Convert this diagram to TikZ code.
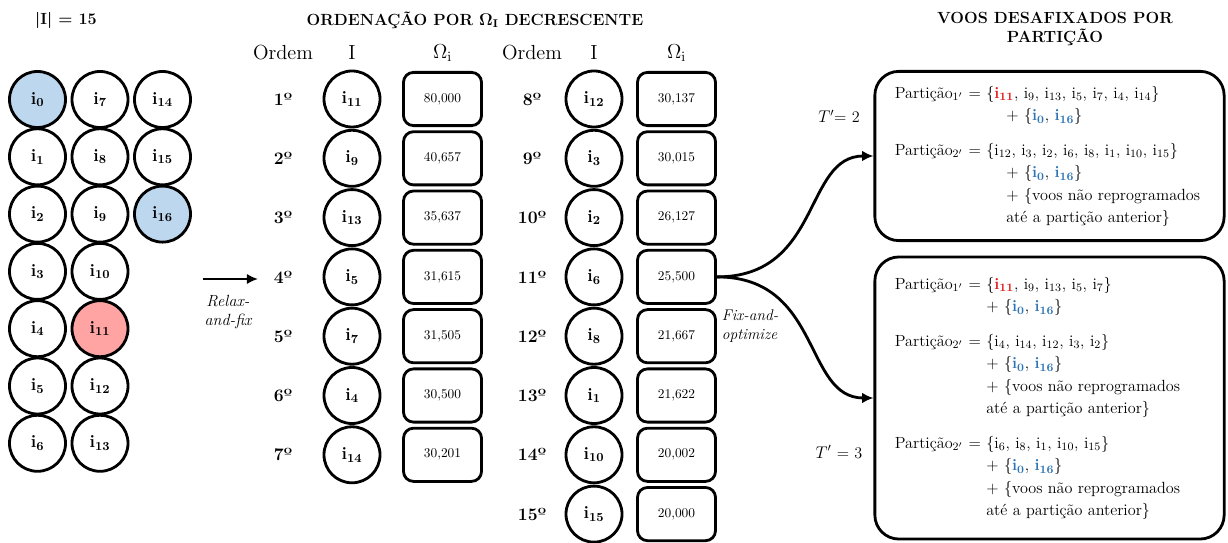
\documentclass[tikz,border=0pt]{standalone}
\usepackage{amsmath}
\usepackage{tikz}
\usetikzlibrary{positioning,arrows.meta}
\definecolor{azul}{HTML}{BDD7EE}
\definecolor{rosa}{HTML}{FFA3A3}
\definecolor{azultxt}{HTML}{2E75B6}
\definecolor{vermelho}{HTML}{E31B1B}
\newcommand{\iv}[1]{i\textsubscript{#1}}
\newcommand{\ivr}[1]{\textcolor{vermelho}{\textbf{i\textsubscript{#1}}}}
\newcommand{\iva}[1]{\textcolor{azultxt}{\textbf{i\textsubscript{#1}}}}
\tikzstyle{circulo} = [draw, line width=2pt, circle, minimum size=1.4cm, inner sep=0pt, font=\fontsize{12.5}{14}\selectfont\bfseries]
\tikzstyle{valor} = [draw, line width=2pt, rectangle, rounded corners=0.25cm, minimum width=1.95cm, minimum height=1.33cm, font=\fontsize{9.5}{11}\selectfont]
\tikzstyle{ordem} = [font=\fontsize{12.5}{14}\selectfont\bfseries]
\tikzstyle{cabecalho} = [font=\fontsize{14.5}{16}\selectfont]
\tikzstyle{titulo} = [font=\fontsize{11.5}{13.5}\selectfont\bfseries, align=center]
\tikzstyle{particao} = [draw, line width=2pt, rounded corners=0.6cm, text width=7.73cm, inner xsep=0.5cm, align=left, font=\fontsize{11.5}{16}\selectfont]
\tikzstyle{rotulo} = [font=\fontsize{11.5}{14}\selectfont\itshape, align=center]
\tikzstyle{seta} = [line width=2pt, -{Latex[length=8pt,width=7.5pt]}]

\begin{document}
\begin{tikzpicture}[x=0.025cm, y=-0.025cm]
\useasboundingbox (0,0) rectangle (1228,543);
% titulos
\node[titulo] (tamanho) at (66,20) {|I| = 15};
\node[titulo] (ordenacao) at (475,20) {ORDENAÇÃO POR $\mathbf{\Omega_{I}}$ DECRESCENTE};
\node[titulo] (desafixados) at (1055,29) {VOOS DESAFIXADOS POR\\PARTIÇÃO};

% conjunto de voos
\foreach \k/\cor in {0/azul,1/white,2/white,3/white,4/white,5/white,6/white,7/white,8/white,
    9/white,10/white,11/rosa,12/white,13/white,14/white,15/white,16/azul}{
  \pgfmathsetmacro{\px}{37.5+62.5*int(\k/7)}
  \pgfmathsetmacro{\py}{99.5+57.3*mod(\k,7)}
  \node[circulo, fill=\cor] (g\k) at (\px,\py) {\iv{\k}};
}

% ordenacao por omega
\node[cabecalho] (hordem1) at (283,53) {Ordem};
\node[cabecalho] (hvoo1) at (352,53) {I};
\node[cabecalho] (homega1) at (442.5,53) {$\Omega_{\mathrm{i}}$};
\node[cabecalho] (hordem2) at (532,53) {Ordem};
\node[cabecalho] (hvoo2) at (594,53) {I};
\node[cabecalho] (homega2) at (676.5,53) {$\Omega_{\mathrm{i}}$};

\foreach \n/\i/\val [count=\lin from 0] in {1/11/{80,000},2/9/{40,657},3/13/{35,637},
    4/5/{31,615},5/7/{31,505},6/4/{30,500},7/14/{30,201}}{
  \node[ordem] (o\n) at (283,99+59.3*\lin) {{\n}º};
  \node[circulo] (c\n) at (352,99+59.3*\lin) {\iv{\i}};
  \node[valor] (v\n) at (442.5,99+59.3*\lin) {\val};
}
\foreach \n/\i/\val [count=\lin from 0] in {8/12/{30,137},9/3/{30,015},10/2/{26,127},
    11/6/{25,500},12/8/{21,667},13/1/{21,622},14/10/{20,002},15/15/{20,000}}{
  \node[ordem] (o\n) at (532,99+59.3*\lin) {{\n}º};
  \node[circulo] (c\n) at (594,99+59.3*\lin) {\iv{\i}};
  \node[valor] (v\n) at (676.5,99+59.3*\lin) {\val};
}

% relax-and-fix
\coordinate (rf0) at (203,279);
\coordinate (rf1) at (258,279);
\draw[seta] (rf0) -- (rf1);
\node[rotulo] (relax) at (228,312) {Relax-\\and-fix};

% particoes
\node[particao, minimum height=4.23cm] (part2) at (1049.5,156) {%
\begin{tabular}{@{}l@{ }l@{}}
Partição$_{1'}$ = & \{\ivr{11}, \iv{9}, \iv{13}, \iv{5}, \iv{7}, \iv{4}, \iv{14}\}\\
 & \hspace*{0.5cm}+ \{\iva{0}, \iva{16}\}\\[0.3cm]
Partição$_{2'}$ = & \{\iv{12}, \iv{3}, \iv{2}, \iv{6}, \iv{8}, \iv{1}, \iv{10}, \iv{15}\}\\
 & \hspace*{0.5cm}+ \{\iva{0}, \iva{16}\}\\
 & \hspace*{0.5cm}+ \{voos não reprogramados\\
 & \hspace*{0.5cm}até a partição anterior\}
\end{tabular}};
\node[particao, minimum height=7.05cm] (part3) at (1049.5,398) {%
\begin{tabular}{@{}l@{ }l@{}}
Partição$_{1'}$ = & \{\ivr{11}, \iv{9}, \iv{13}, \iv{5}, \iv{7}\}\\
 & + \{\iva{0}, \iva{16}\}\\[0.3cm]
Partição$_{2'}$ = & \{\iv{4}, \iv{14}, \iv{12}, \iv{3}, \iv{2}\}\\
 & + \{\iva{0}, \iva{16}\}\\
 & + \{voos não reprogramados\\
 & até a partição anterior\}\\[0.3cm]
Partição$_{2'}$ = & \{\iv{6}, \iv{8}, \iv{1}, \iv{10}, \iv{15}\}\\
 & + \{\iva{0}, \iva{16}\}\\
 & + \{voos não reprogramados\\
 & até a partição anterior\}
\end{tabular}};

% fix-and-optimize
\draw[seta] (v11.east) .. controls +(105,0) and +(-70,0) .. (part2.west);
\draw[seta] (v11.east) .. controls +(105,0) and +(-70,0) .. (part3.west);
\node[rotulo, align=left, anchor=west, font=\fontsize{11}{14}\selectfont\itshape] (fixopt) at (717,326) {Fix-and-\\optimize};
\node[font=\fontsize{11.5}{14}\selectfont] (tl2) at (839,116) {$T'$= 2};
\node[font=\fontsize{11.5}{14}\selectfont] (tl3) at (839,452) {$T'$ = 3};
\end{tikzpicture}
\end{document}
